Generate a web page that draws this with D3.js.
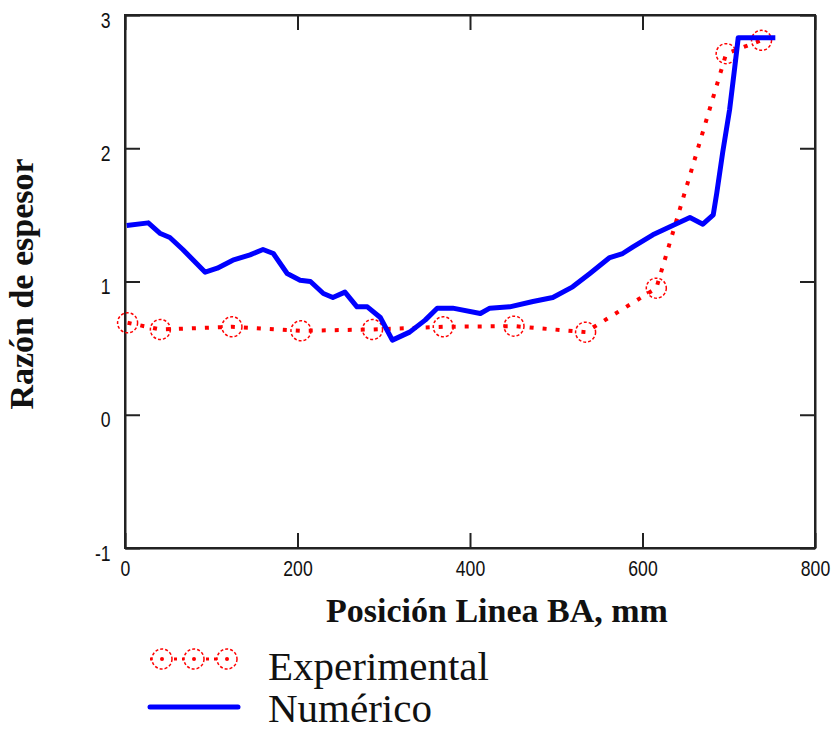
<!DOCTYPE html>
<html>
<head>
<meta charset="utf-8">
<title>Razón de espesor</title>
<script src="https://d3js.org/d3.v7.min.js"></script>
<style>
body{ margin:0; background:#fff; }
.tick text{ font-family:"Liberation Sans","DejaVu Sans",sans-serif; font-size:22px; fill:#111; }
.axis path, .axis line{ stroke:#222; stroke-width:2; }
.title{ font-family:"Liberation Serif","Times New Roman",serif; font-weight:bold; font-size:34px; fill:#111; }
.leg{ font-family:"Liberation Serif","Times New Roman",serif; font-size:41px; fill:#111; }
</style>
</head>
<body>
<svg class="chart"></svg>
<script>
// data
var xTicks = [0, 200, 400, 600, 800];
var yTicks = [-1, 0, 1, 2, 3];

// Experimental (circles)
var expX = [3, 41, 124, 204, 287, 369, 451, 534, 616, 697, 738];
var expY = [0.69, 0.64, 0.66, 0.63, 0.64, 0.66, 0.665, 0.62, 0.95, 2.71, 2.81];

// Numérico (solid line)
var numX = [2, 27, 41, 52, 67, 93, 107, 125, 145, 160, 172, 188, 203, 215, 230, 241, 255, 269, 281, 296,
            310, 330, 348, 362, 380, 412, 423, 446, 473, 496, 519, 539, 562, 577, 589, 612, 635, 655,
            670, 682, 686, 693, 701, 707, 711, 754];
var numY = [1.42, 1.44, 1.36, 1.33, 1.24, 1.07, 1.10, 1.16, 1.20, 1.24, 1.21, 1.06, 1.01, 1.00, 0.91, 0.88, 0.92, 0.81, 0.81, 0.73,
            0.56, 0.62, 0.71, 0.80, 0.80, 0.76, 0.80, 0.81, 0.85, 0.88, 0.96, 1.06, 1.18, 1.21, 1.26, 1.35, 1.42, 1.48,
            1.43, 1.50, 1.66, 1.97, 2.29, 2.61, 2.83, 2.83];

var expData = expX.map(function(d, i){ return {x: d, y: expY[i]}; });
var numData = numX.map(function(d, i){ return {x: d, y: numY[i]}; });

var W = 838, H = 733;
var svg = d3.select(".chart").attr("width", W).attr("height", H);

var x = d3.scaleLinear().domain([0, 800]).range([125, 815]);
var y = d3.scaleLinear().domain([-1, 3]).range([548, 15]);

var fmt = function(d){ return String(d); };

//axes, ticks pointing inward
svg.append("g").attr("class", "axis")
	.attr("transform", "translate(0,548)")
	.call(d3.axisBottom(x).tickValues(xTicks).tickFormat(fmt).tickSizeInner(-15).tickSizeOuter(0).tickPadding(30))
	.selectAll("text").attr("dy", "-0.1em").attr("transform", "scale(0.8,1)");
svg.append("g").attr("class", "axis")
	.attr("transform", "translate(0,15)")
	.call(d3.axisTop(x).tickValues(xTicks).tickSizeInner(-15).tickSizeOuter(0).tickFormat(""));
svg.append("g").attr("class", "axis")
	.attr("transform", "translate(125,0)")
	.call(d3.axisLeft(y).tickValues(yTicks).tickFormat(fmt).tickSizeInner(-15).tickSizeOuter(0).tickPadding(18))
	.selectAll("text").attr("dy", "0.55em").attr("transform", "scale(0.8,1)");
svg.append("g").attr("class", "axis")
	.attr("transform", "translate(815,0)")
	.call(d3.axisRight(y).tickValues(yTicks).tickSizeInner(-15).tickSizeOuter(0).tickFormat(""));

//frame
svg.append("rect")
	.attr("x", x(0)).attr("y", y(3))
	.attr("width", x(800) - x(0)).attr("height", y(-1) - y(3))
	.attr("fill", "none").attr("stroke", "#222").attr("stroke-width", 2);

var line = d3.line().x(function(d){ return x(d.x); }).y(function(d){ return y(d.y); });

//experimental dotted line
svg.append("path").datum(expData)
	.attr("d", line)
	.attr("fill", "none").attr("stroke", "#ff0000")
	.attr("stroke-width", 4).attr("stroke-dasharray", "4,9");

svg.selectAll(".expc").data(expData).enter().append("circle")
	.attr("class", "expc")
	.attr("cx", function(d){ return x(d.x); })
	.attr("cy", function(d){ return y(d.y); })
	.attr("r", 10)
	.attr("fill", "none").attr("stroke", "#ff0000")
	.attr("stroke-width", 1.5).attr("stroke-dasharray", "3,2");

//numeric line
svg.append("path").datum(numData)
	.attr("d", line)
	.attr("fill", "none").attr("stroke", "#0000ff")
	.attr("stroke-width", 5).attr("stroke-linejoin", "round");

//axis titles
svg.append("text").attr("class", "title")
	.attr("x", 497).attr("y", 622)
	.attr("text-anchor", "middle")
	.text("Posición Linea BA, mm");
svg.append("text").attr("class", "title")
	.attr("transform", "translate(33,284) rotate(-90)")
	.attr("text-anchor", "middle")
	.text("Razón de espesor");

//legend
var leg = svg.append("g");
leg.append("line")
	.attr("x1", 150).attr("x2", 238).attr("y1", 659).attr("y2", 659)
	.attr("stroke", "#ff0000").attr("stroke-width", 3).attr("stroke-dasharray", "3,5");
[162, 194, 227].forEach(function(cx){
	leg.append("circle").attr("cx", cx).attr("cy", 659).attr("r", 10)
		.attr("fill", "#fff").attr("stroke", "#ff0000")
		.attr("stroke-width", 1.5).attr("stroke-dasharray", "3,2");
	leg.append("circle").attr("cx", cx).attr("cy", 659).attr("r", 2).attr("fill", "#ff0000");
});
leg.append("text").attr("class", "leg").attr("x", 268).attr("y", 680).text("Experimental");

leg.append("line")
	.attr("x1", 150).attr("x2", 238).attr("y1", 707).attr("y2", 707)
	.attr("stroke", "#0000ff").attr("stroke-width", 5).attr("stroke-linecap", "round");
leg.append("text").attr("class", "leg").attr("x", 268).attr("y", 722).text("Numérico");
</script>
</body>
</html>
